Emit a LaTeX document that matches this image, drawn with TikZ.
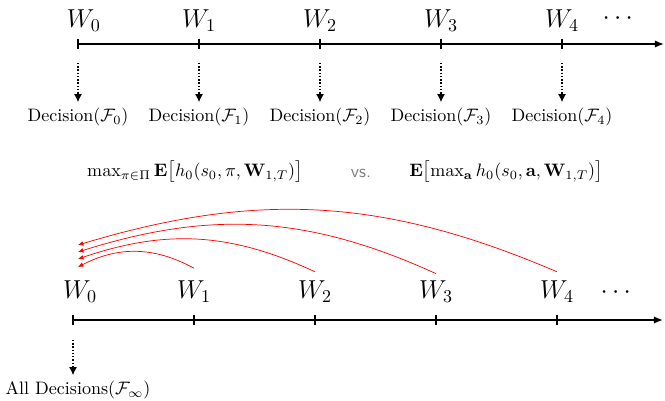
\documentclass[tikz,border=0pt]{standalone}
\usepackage{amsmath,amssymb}
\usepackage{xcolor}
\usepackage{tikz}
\usetikzlibrary{arrows.meta, positioning}

\begin{document}
\begin{tikzpicture}[x=0.0195cm, y=-0.0195cm,
        wlab/.style={font=\Large, inner sep=1pt},
        dec/.style={font=\normalsize, inner sep=2pt},
        axis/.style={thick, -{Latex[length=5pt, width=4pt]}},
        tickmark/.style={thick},
        decarrow/.style={thick, densely dotted, -{Latex[length=4.5pt, width=4.5pt]}},
        back/.style={red, thin, -{Latex[length=3pt, width=2.6pt]}}]
        \useasboundingbox (0,0) rectangle (665,400);

        % top time line
        \coordinate (t0) at (78,44);
        \coordinate (t1) at (199,44);
        \coordinate (t2) at (320,44);
        \coordinate (t3) at (441,44);
        \coordinate (t4) at (562,44);
        \coordinate (tend) at (664,44);
        \draw[axis] (t0) -- (tend);
        \foreach \t in {t0,t1,t2,t3,t4}
            \draw[tickmark] ([yshift=3pt]\t) -- ([yshift=-3pt]\t);

        \node (w0) [wlab, above=6pt of t0, xshift=3.3pt] {$W_0$};
        \node (w1) [wlab, above=6pt of t1] {$W_1$};
        \node (w2) [wlab, above=6pt of t2] {$W_2$};
        \node (w3) [wlab, above=6pt of t3] {$W_3$};
        \node (w4) [wlab, above=6pt of t4] {$W_4$};
        \node (tdots) [wlab] at (620,19) {$\cdots$};

        \node (d0) [dec] at (78,117) {Decision($\mathcal{F}_0$)};
        \node (d1) [dec] at (199,117) {Decision($\mathcal{F}_1$)};
        \node (d2) [dec] at (320,117) {Decision($\mathcal{F}_2$)};
        \node (d3) [dec] at (441,117) {Decision($\mathcal{F}_3$)};
        \node (d4) [dec] at (562,117) {Decision($\mathcal{F}_4$)};

        \draw[decarrow] ([yshift=-10.5pt]t0) -- ([yshift=1pt]d0.north);
        \draw[decarrow] ([yshift=-10.5pt]t1) -- ([yshift=1pt]d1.north);
        \draw[decarrow] ([yshift=-10.5pt]t2) -- ([yshift=1pt]d2.north);
        \draw[decarrow] ([yshift=-10.5pt]t3) -- ([yshift=1pt]d3.north);
        \draw[decarrow] ([yshift=-10.5pt]t4) -- ([yshift=1pt]d4.north);

        % comparison
        \node (pol) at (195,172) {$\max_{\pi\in\Pi}\mathbf{E}\bigl[h_0(s_0,\pi,\mathbf{W}_{1,T})\bigr]$};
        \node (vs) [font=\sffamily, text=gray] at (361,173) {vs.};
        \node (ant) at (506,172) {$\mathbf{E}\bigl[\max_{\mathbf{a}} h_0(s_0,\mathbf{a},\mathbf{W}_{1,T})\bigr]$};

        % bottom time line
        \coordinate (b0) at (73,320);
        \coordinate (b1) at (194,320);
        \coordinate (b2) at (315,320);
        \coordinate (b3) at (436,320);
        \coordinate (b4) at (557,320);
        \coordinate (bend) at (663,320);
        \draw[axis] (b0) -- (bend);
        \foreach \t in {b0,b1,b2,b3,b4}
            \draw[tickmark] ([yshift=3pt]\t) -- ([yshift=-3pt]\t);

        \node (v0) [wlab] at (80,292) {$W_0$};
        \node (v1) [wlab] at (194,292) {$W_1$};
        \node (v2) [wlab] at (315,292) {$W_2$};
        \node (v3) [wlab] at (436,292) {$W_3$};
        \node (v4) [wlab] at (557,292) {$W_4$};
        \node (bdots) [wlab] at (618,293) {$\cdots$};

        \node (all) [dec] at (78,390) {All Decisions($\mathcal{F}_\infty$)};
        \draw[decarrow] ([yshift=-11pt]b0) -- ([yshift=1pt]all.north -| b0);

        % information flowing back to time 0
        \coordinate (e1) at (78,267);
        \coordinate (e2) at (78,259);
        \coordinate (e3) at (78,252);
        \coordinate (e4) at (78,245);
        \draw[back] ([yshift=6pt]v1.north) to[bend right=28] (e1);
        \draw[back] ([yshift=4pt]v2.north) to[bend right=22] (e2);
        \draw[back] ([yshift=3pt]v3.north) to[bend right=21] (e3);
        \draw[back] ([yshift=4pt]v4.north) to[bend right=20] (e4);
    \end{tikzpicture}
\end{document}
